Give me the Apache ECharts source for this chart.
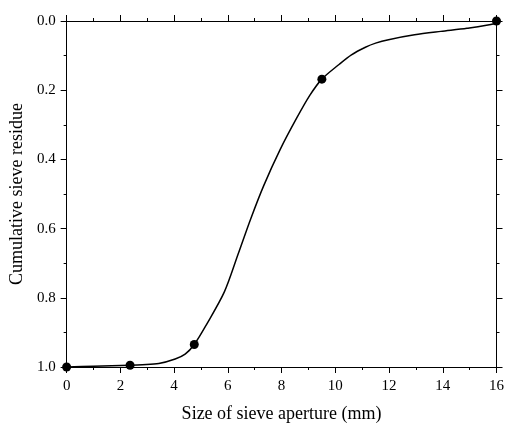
<!DOCTYPE html>
<html>
<head>
<meta charset="utf-8">
<script src="https://cdn.jsdelivr.net/npm/echarts@6/dist/echarts.min.js"></script>
<style>html,body{margin:0;padding:0;background:#fff}#c{width:507px;height:428px}</style>
</head>
<body>
<div id="c"></div>
<script>
// Measured sieve points
const sieveSize = [0, 2.36, 4.75, 9.5, 16];
const residue = [1.0, 0.995, 0.935, 0.168, 0.0];
// Fitted curve
const curveX = [0, 1, 2.36, 2.82, 3.43, 4.04, 4.41, 4.75, 5.2, 5.87, 6.39, 6.85, 7.34, 7.95, 8.56, 9.05, 9.5, 10.15, 10.6, 11.12, 11.5, 11.98, 12.95, 13.93, 14.9, 15.95, 16];
const curveY = [1.0, 0.998, 0.995, 0.9935, 0.990, 0.977, 0.963, 0.935, 0.878, 0.783, 0.672, 0.572, 0.475, 0.371, 0.281, 0.215, 0.168, 0.125, 0.098, 0.076, 0.064, 0.054, 0.040, 0.030, 0.021, 0.007, 0.0];
const xTicks = [0, 2, 4, 6, 8, 10, 12, 14, 16];
const yTicks = ['0.0', '0.2', '0.4', '0.6', '0.8', '1.0'];

const font = 'Liberation Serif';
const axisCommon = {
  axisLine: {show: true, onZero: false, lineStyle: {color: '#000', width: 1}},
  axisTick: {show: true, inside: false, length: 6, lineStyle: {color: '#000', width: 1}},
  minorTick: {show: true, splitNumber: 2, length: 3, lineStyle: {color: '#000', width: 1}},
  splitLine: {show: false}
};
const chart = echarts.init(document.getElementById('c'));
chart.setOption({
  animation: false,
  backgroundColor: '#fff',
  grid: {left: 63, right: 7, top: 21, bottom: 55, containLabel: false},
  xAxis: [
    Object.assign({}, axisCommon, {
      type: 'value', min: 0, max: 16, interval: 2, position: 'bottom',
      name: 'Size of sieve aperture (mm)', nameLocation: 'middle', nameGap: 38,
      nameTextStyle: {fontFamily: font, fontSize: 18, color: '#000'},
      axisLabel: {fontFamily: font, fontSize: 15, color: '#000', margin: 12,
        formatter: v => xTicks.indexOf(v) >= 0 ? String(v) : ''}
    }),
    Object.assign({}, axisCommon, {
      type: 'value', min: 0, max: 16, interval: 2, position: 'top',
      axisLabel: {show: false}
    })
  ],
  yAxis: [
    Object.assign({}, axisCommon, {
      type: 'value', min: 0, max: 1, interval: 0.2, inverse: true, position: 'left',
      name: 'Cumulative sieve residue', nameLocation: 'middle', nameGap: 30,
      nameTextStyle: {fontFamily: font, fontSize: 18, color: '#000'},
      axisLabel: {fontFamily: font, fontSize: 15, color: '#000', margin: 11,
        formatter: v => yTicks[Math.round(v / 0.2)]}
    }),
    Object.assign({}, axisCommon, {
      type: 'value', min: 0, max: 1, interval: 0.2, inverse: true, position: 'right',
      axisLabel: {show: false}
    })
  ],
  series: [
    {
      type: 'line', xAxisIndex: 0, yAxisIndex: 0,
      data: curveX.map((x, i) => [x, curveY[i]]),
      smooth: 0.3, showSymbol: false, symbol: 'none',
      lineStyle: {color: '#000', width: 1.5}
    },
    {
      type: 'scatter', xAxisIndex: 0, yAxisIndex: 0,
      data: sieveSize.map((x, i) => [x, residue[i]]),
      symbol: 'circle', symbolSize: 9,
      itemStyle: {color: '#000', opacity: 1}
    }
  ]
});
</script>
</body>
</html>
